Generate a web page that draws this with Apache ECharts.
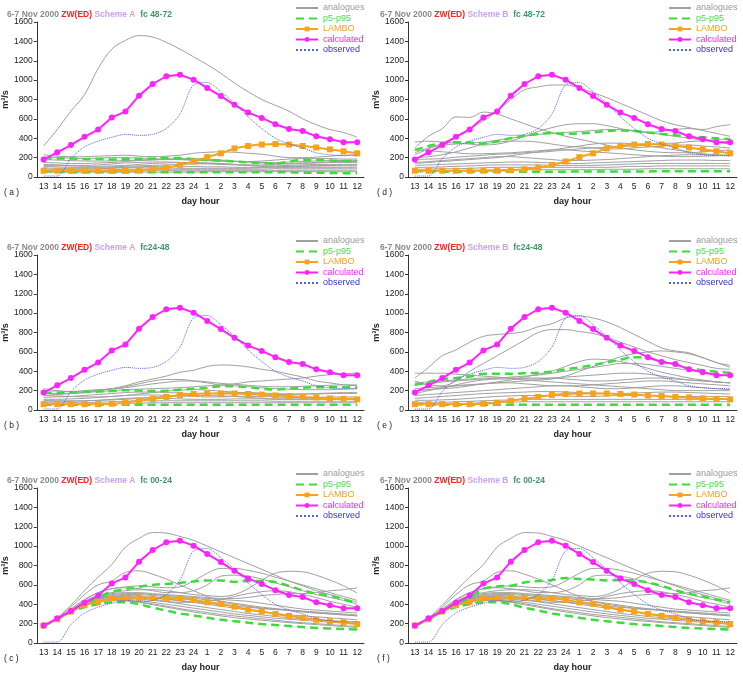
<!DOCTYPE html>
<html>
<head>
<meta charset="utf-8">
<script src="https://cdn.jsdelivr.net/npm/echarts@6/dist/echarts.min.js"></script>
<style>
html, body { margin: 0; padding: 0; background: #fff; }
#main { width: 743px; height: 688px; }
</style>
</head>
<body>
<div id="main"></div>
<script>
// day hours, 13 on day 6 to 12 on day 7
var hours = ['13','14','15','16','17','18','19','20','21','22','23','24','1','2','3','4','5','6','7','8','9','10','11','12'];
var yTicks = [0, 200, 400, 600, 800, 1000, 1200, 1400, 1600];

// same in every panel
var calculated = [180,255,330,415,490,615,675,840,960,1040,1055,1005,920,835,745,665,610,545,495,475,420,390,360,360];
var observed = [10,10,190,310,370,410,440,430,440,500,650,950,975,880,760,620,500,400,340,300,250,230,220,220];

// LAMBO per forecast range
var lambo4872 = [65,65,65,65,65,65,65,70,80,95,125,160,205,245,295,320,335,340,335,320,305,285,265,245];
var lambo2448 = [60,60,60,60,60,65,75,95,115,135,155,165,170,170,170,165,160,150,145,135,130,120,115,110];
var lambo0024 = [180,245,325,390,425,460,465,470,465,465,460,445,420,405,375,345,325,300,280,260,240,225,215,195];

// p5 / p95 bands
var pA4872 = [
  [195,190,190,185,185,180,185,185,190,195,195,185,175,170,160,150,145,140,160,175,175,170,165,165],
  [60,55,50,50,50,50,50,50,50,50,50,50,50,50,50,50,50,48,48,45,45,42,40,40]
];
var pB4872 = [
  [280,320,350,360,355,345,370,400,425,445,455,445,450,460,475,480,475,460,445,430,420,410,400,390],
  [60,58,55,55,55,55,55,55,55,55,55,55,58,58,58,58,58,58,60,60,60,60,60,60]
];
var pA2448 = [
  [180,175,180,185,190,195,205,200,195,200,210,220,230,245,245,235,220,210,220,230,235,235,235,235],
  [55,55,55,55,55,55,55,55,55,55,55,55,55,55,55,55,55,55,55,55,55,55,55,55]
];
var pB2448 = [
  [260,290,320,330,345,375,375,375,380,385,395,420,440,465,490,520,545,540,500,470,430,410,395,385],
  [60,58,55,55,55,55,55,55,55,55,55,55,55,55,55,55,55,55,55,55,55,55,55,55]
];
var pA0024 = [
  [180,245,330,400,470,530,555,580,600,610,620,635,645,645,630,640,640,630,590,545,510,490,450,410],
  [180,245,320,370,400,420,420,400,365,335,305,285,260,240,225,210,195,185,175,165,155,150,145,140]
];
var pB0024 = [
  [180,245,330,400,470,560,585,590,625,640,650,670,660,655,645,650,645,625,590,545,510,480,450,420],
  [180,245,320,370,400,420,420,400,365,335,305,285,260,240,225,210,195,185,175,165,155,150,145,140]
];

// analogues
var anA4872 = [
  [320,490,680,850,1120,1320,1410,1460,1445,1390,1320,1240,1160,1070,970,880,800,740,680,600,540,490,460,410],
  [230,215,210,210,215,220,225,215,210,215,225,245,255,260,255,245,235,215,200,200,205,215,225,230],
  [205,200,195,190,195,200,200,195,190,185,180,175,170,165,160,160,165,175,185,190,190,190,185,185],
  [180,175,170,165,165,165,170,175,180,185,190,190,185,175,165,155,145,140,140,145,150,155,160,160],
  [150,145,140,140,145,150,160,170,175,180,180,175,170,165,160,155,150,150,155,160,165,170,170,170],
  [130,125,120,120,125,135,145,150,155,155,150,145,140,135,130,125,125,130,135,140,145,150,150,150],
  [120,120,115,110,110,115,120,130,140,145,150,150,145,140,130,120,110,105,105,110,115,120,125,125],
  [110,105,100,100,100,105,110,115,120,125,130,135,135,130,125,120,115,115,120,125,130,130,130,130],
  [95,90,90,90,90,95,100,105,110,110,110,110,105,105,100,100,100,105,110,115,115,115,115,115],
  [80,80,80,80,85,90,95,95,95,95,90,90,90,90,90,90,95,95,100,100,100,100,100,100],
  [70,70,70,70,70,75,80,80,80,80,80,80,80,80,80,80,80,85,85,85,85,85,85,85],
  [60,60,60,60,60,60,60,65,65,65,65,65,65,65,65,65,65,65,70,70,70,70,70,70],
  [50,50,50,50,50,50,50,50,50,50,50,50,55,55,55,55,55,55,55,55,55,55,55,55]
];
var anB4872 = [
  [230,290,350,420,500,580,680,800,900,930,950,950,920,870,820,760,700,640,580,540,510,480,450,420],
  [300,420,500,620,615,670,650,600,550,500,460,420,390,360,330,300,280,265,255,250,250,260,270,280],
  [360,370,360,350,340,330,340,370,420,470,510,540,550,550,530,500,470,460,470,490,500,490,520,540],
  [250,300,330,340,350,360,380,400,420,440,450,460,470,480,490,490,480,460,440,420,400,380,360,340],
  [200,210,230,260,300,340,360,370,370,360,340,320,310,300,290,290,300,310,320,330,330,320,310,300],
  [280,270,260,250,240,240,245,250,260,270,280,280,270,260,250,240,230,220,215,210,210,215,220,230],
  [180,185,190,205,215,225,235,240,250,255,265,280,290,300,305,315,320,330,345,350,365,375,385,395],
  [140,150,160,170,180,190,200,220,240,260,280,300,320,340,350,350,340,320,300,280,260,240,230,220],
  [150,160,170,180,190,200,210,210,200,190,180,170,170,175,180,190,200,210,220,225,230,230,225,220],
  [120,125,130,135,140,145,150,155,155,150,145,140,140,145,150,155,160,165,170,175,175,175,170,170],
  [100,100,105,110,115,120,125,125,125,125,120,120,120,120,125,130,135,140,140,140,140,140,140,140],
  [80,80,85,85,90,95,100,100,100,100,100,100,100,100,100,105,110,110,115,115,115,115,115,115],
  [65,65,65,65,70,70,75,75,75,75,75,75,75,75,80,80,80,85,85,85,85,85,85,85]
];
var anA2448 = [
  [150,160,170,180,200,220,250,290,320,350,390,410,450,465,460,445,420,400,370,340,300,280,260,250],
  [220,200,190,200,210,220,240,270,300,315,315,300,280,260,270,290,300,310,320,330,350,365,375,380],
  [200,195,190,195,205,215,230,250,270,285,300,300,290,275,265,255,245,240,240,245,250,255,260,260],
  [170,170,175,180,190,200,210,215,220,225,230,240,250,255,250,240,230,220,215,210,210,210,215,220],
  [150,145,140,135,135,140,150,165,180,195,205,210,205,195,185,175,165,160,160,165,170,175,180,180],
  [130,135,140,150,160,170,180,185,185,180,175,170,170,175,180,180,175,170,165,165,165,170,170,170],
  [110,110,115,120,130,140,150,155,155,150,145,140,135,135,140,140,140,135,130,130,130,135,135,135],
  [100,95,95,95,100,105,110,120,130,140,145,150,150,145,140,130,120,115,115,115,120,120,120,120],
  [90,90,90,95,100,110,120,125,125,120,115,110,110,110,115,115,115,110,110,110,110,110,110,110],
  [75,75,75,75,80,85,90,95,95,95,95,95,95,95,95,95,95,90,90,90,90,90,90,90],
  [60,60,60,60,60,65,70,70,75,75,75,75,75,75,75,75,75,75,75,75,75,75,75,75]
];
var anB2448 = [
  [330,440,560,620,700,760,780,790,810,860,890,950,970,950,910,850,780,710,640,610,590,540,490,460],
  [300,260,250,300,400,480,560,640,720,800,830,830,810,790,750,700,650,600,560,520,490,460,430,420],
  [200,210,220,230,250,270,290,310,340,370,400,450,500,525,520,500,470,430,390,360,330,310,290,280],
  [220,230,240,250,260,270,280,290,300,310,320,350,400,450,500,550,580,600,610,600,580,540,490,440],
  [380,380,380,370,360,350,340,330,320,320,330,340,350,360,370,380,380,370,350,330,310,300,290,280],
  [260,270,290,300,310,320,330,340,350,360,380,400,420,440,460,480,480,470,450,430,410,390,370,350],
  [280,290,300,310,320,330,330,330,330,330,330,320,310,300,300,310,320,330,330,320,310,300,290,280],
  [170,200,230,260,290,310,320,320,310,300,290,280,270,260,250,240,230,220,210,200,200,200,200,200],
  [200,210,230,250,260,270,280,280,270,260,250,250,250,260,270,280,290,300,300,290,280,270,260,250],
  [150,160,170,180,190,200,210,220,230,240,250,250,240,230,220,220,230,240,250,250,240,230,220,210],
  [120,130,140,150,160,170,175,180,185,190,190,185,180,175,170,170,175,180,185,185,180,175,170,165],
  [100,100,105,110,120,130,140,145,150,150,150,145,140,140,145,150,150,150,145,140,140,140,140,140],
  [80,80,80,85,90,95,100,105,110,110,110,110,110,110,110,110,110,110,110,110,110,110,110,110],
  [60,60,60,65,70,75,80,80,85,85,85,85,85,85,85,85,85,85,85,85,85,85,85,85]
];
var an0024 = [
  [180,260,390,540,680,810,990,1080,1140,1135,1100,1060,1000,940,880,820,760,700,640,590,540,500,460,420],
  [180,255,370,500,600,640,730,745,710,660,600,540,480,430,400,380,360,350,340,330,320,310,300,290],
  [180,250,350,450,520,560,580,590,580,570,580,640,720,770,770,750,720,680,640,600,560,520,480,440],
  [180,250,340,430,490,520,540,550,550,540,520,500,490,480,500,560,650,720,740,735,700,650,590,515],
  [180,250,330,420,480,510,520,520,510,500,490,480,470,460,460,470,490,500,510,510,520,540,550,570],
  [180,250,340,440,520,560,570,560,540,520,520,540,600,690,700,690,660,620,580,540,500,470,440,400],
  [180,250,330,410,460,480,480,470,450,430,420,420,430,450,480,510,530,540,530,500,470,430,400,370],
  [180,250,335,415,470,500,510,510,500,490,480,470,460,450,440,430,410,390,370,350,340,330,320,310],
  [180,250,330,405,460,490,500,500,490,480,470,460,445,430,410,390,370,355,340,325,310,300,290,280],
  [180,245,330,400,450,470,475,470,460,450,435,420,410,395,380,370,355,345,335,320,310,300,290,280],
  [180,245,325,400,450,480,490,485,470,455,440,420,400,380,360,340,320,305,290,280,270,260,250,240],
  [180,245,325,395,440,460,465,455,440,425,405,385,365,345,325,305,290,275,260,250,240,230,220,210],
  [180,245,320,390,430,450,450,440,420,400,380,360,340,320,300,285,270,255,245,235,225,215,205,195],
  [180,245,320,385,420,440,440,425,405,380,355,335,315,295,280,265,250,235,220,210,200,190,180,170],
  [180,245,320,390,425,440,435,420,395,370,345,320,300,280,262,248,235,222,210,200,190,180,170,160]
];

var panels = [
  { tag: '( a )', scheme: 'A', fc: 'fc 48-72', an: anA4872, band: pA4872, lambo: lambo4872, left: 35, top: 22 },
  { tag: '( b )', scheme: 'A', fc: 'fc24-48', an: anA2448, band: pA2448, lambo: lambo2448, left: 35, top: 255 },
  { tag: '( c )', scheme: 'A', fc: 'fc 00-24', an: an0024, band: pA0024, lambo: lambo0024, left: 35, top: 488 },
  { tag: '( d )', scheme: 'B', fc: 'fc 48-72', an: anB4872, band: pB4872, lambo: lambo4872, left: 408, top: 22 },
  { tag: '( e )', scheme: 'B', fc: 'fc24-48', an: anB2448, band: pB2448, lambo: lambo2448, left: 408, top: 255 },
  { tag: '( f )', scheme: 'B', fc: 'fc 00-24', an: an0024, band: pB0024, lambo: lambo0024, left: 408, top: 488 }
];

var fontFam = 'Liberation Sans, Arial, sans-serif';
var option = {
  animation: false,
  backgroundColor: '#fff',
  textStyle: { fontFamily: fontFam },
  title: [], legend: [], grid: [], xAxis: [], yAxis: [], series: [], graphic: []
};

// legend entries; lines without markers get a hidden symbol
var noMark = { opacity: 0 };

panels.forEach(function (p, i) {
  var plotH = 155;
  option.grid.push({ left: p.left, top: p.top, width: 329, height: plotH, containLabel: false });
  option.xAxis.push({
    type: 'category', gridIndex: i, data: hours,
    name: 'day hour', nameLocation: 'middle', nameGap: 20,
    nameTextStyle: { fontSize: 9, fontWeight: 'bold', color: '#222' },
    axisLine: { lineStyle: { color: '#333', width: 1 } },
    axisTick: { lineStyle: { color: '#333' }, length: 3 },
    axisLabel: { fontSize: 8.5, color: '#222', margin: 5, interval: 0 }
  });
  option.yAxis.push({
    type: 'value', gridIndex: i, min: yTicks[0], max: yTicks[yTicks.length - 1], interval: 200,
    name: 'm³/s', nameLocation: 'middle', nameGap: 23, nameRotate: 90,
    nameTextStyle: { fontSize: 9, fontWeight: 'bold', color: '#222' },
    axisLine: { show: true, lineStyle: { color: '#333', width: 1 } },
    axisTick: { show: true, length: 3, lineStyle: { color: '#333' } },
    axisLabel: { fontSize: 8.5, color: '#222', margin: 4, formatter: function (v) { return String(v); } },
    splitLine: { show: false }
  });
  option.title.push({
    left: p.left - 33, top: p.top - 17,
    text: '{g|6-7 Nov 2000 }{r|ZW(ED)}{s| Scheme ' + p.scheme + '}{f|  ' + p.fc + '}',
    textStyle: {
      fontSize: 8.5, fontWeight: 'bold',
      rich: {
        g: { color: '#8a8a8a', fontSize: 8.5, fontWeight: 'bold' },
        r: { color: '#ff2020', fontSize: 8.5, fontWeight: 'bold' },
        s: { color: '#c8a2f0', fontSize: 8.5, fontWeight: 'bold' },
        f: { color: '#3a9a66', fontSize: 8.5, fontWeight: 'bold' }
      }
    }
  });
  option.legend.push({
    orient: 'vertical', left: p.left + 260, top: p.top - 19, padding: 0,
    itemWidth: 22, itemHeight: 6, itemGap: 0.5,
    textStyle: { fontSize: 9, lineHeight: 10, height: 10 },
    data: [
      { name: 'analogues', itemStyle: noMark, textStyle: { color: '#999' } },
      { name: 'p5-p95', itemStyle: noMark, textStyle: { color: '#44dd44' } },
      { name: 'LAMBO', textStyle: { color: '#f5a020' } },
      { name: 'calculated', textStyle: { color: '#ff22ff' } },
      { name: 'observed', itemStyle: noMark, textStyle: { color: '#3333cc' } }
    ]
  });
  option.graphic.push({
    type: 'text', left: p.left - 31, top: p.top + plotH + 11,
    style: { text: p.tag, fontSize: 8.5, fill: '#222', fontFamily: fontFam }
  });

  p.an.forEach(function (d) {
    option.series.push({
      type: 'line', name: 'analogues', xAxisIndex: i, yAxisIndex: i, data: d,
      symbol: 'none', smooth: 0.35, silent: true, z: 1,
      lineStyle: { color: '#a0a0a0', width: 1 }, itemStyle: { color: '#a0a0a0' }
    });
  });
  p.band.forEach(function (d) {
    option.series.push({
      type: 'line', name: 'p5-p95', xAxisIndex: i, yAxisIndex: i, data: d,
      symbol: 'none', smooth: 0.35, z: 2,
      lineStyle: { color: '#3ddc3d', width: 2.5, type: [8, 5] }, itemStyle: { color: '#3ddc3d' }
    });
  });
  option.series.push({
    type: 'line', name: 'LAMBO', xAxisIndex: i, yAxisIndex: i, data: p.lambo,
    symbol: 'rect', symbolSize: 6, smooth: 0.2, z: 3,
    lineStyle: { color: '#f7a21b', width: 2 }, itemStyle: { color: '#f7a21b' }
  });
  option.series.push({
    type: 'line', name: 'calculated', xAxisIndex: i, yAxisIndex: i, data: calculated,
    symbol: 'circle', symbolSize: 6, z: 4,
    lineStyle: { color: '#ff22ff', width: 2 }, itemStyle: { color: '#ff22ff' }
  });
  option.series.push({
    type: 'line', name: 'observed', xAxisIndex: i, yAxisIndex: i, data: observed,
    symbol: 'none', smooth: 0.3, z: 5,
    lineStyle: { color: '#5060ee', width: 1, type: 'dotted' }, itemStyle: { color: '#5060ee' }
  });
});

var chart = echarts.init(document.getElementById('main'));
chart.setOption(option);
</script>
</body>
</html>
